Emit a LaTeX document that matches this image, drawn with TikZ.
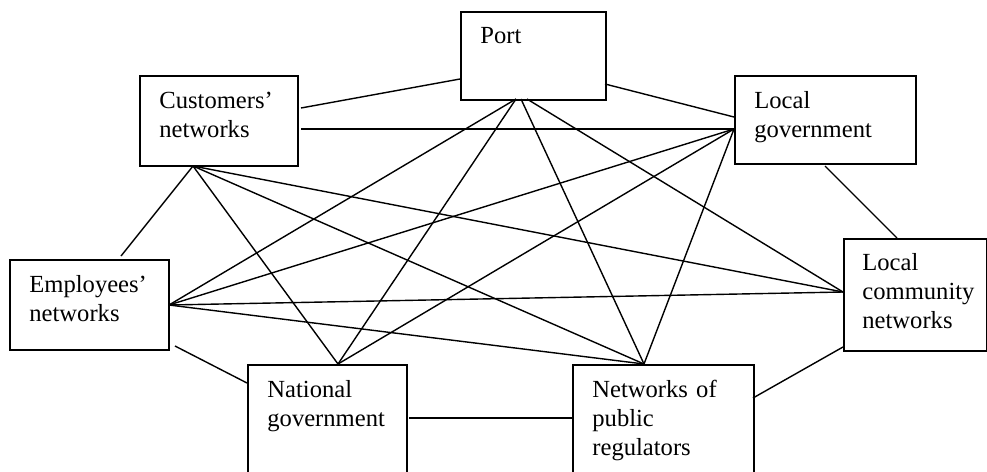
\documentclass[tikz,border=0pt]{standalone}
\usepackage{fontspec}
\setmainfont{Liberation Serif}
\begin{document}
\begin{tikzpicture}[x=0.5pt,y=-0.5pt,
  box/.style={draw, line width=0.75pt, rectangle, anchor=north west, inner sep=0pt},
  lbl/.style={anchor=base west, inner sep=0pt, text width=#1, align=left,
    font=\fontsize{12.3}{14.6}\selectfont},
  lbl/.default=80pt,
  link/.style={line width=0.7pt}]
\useasboundingbox (0,0) rectangle (987,472);
\clip (0,0) rectangle (987,472);
% boxes
\node[box, minimum width=72.5pt, minimum height=44pt] (port) at (460,11) {};
\node[box, minimum width=79pt, minimum height=45pt] (cust) at (139,75) {};
\node[box, minimum width=90.5pt, minimum height=44pt] (lgov) at (734,75) {};
\node[box, minimum width=79.5pt, minimum height=45pt] (emp) at (9,259) {};
\node[box, minimum width=71.5pt, minimum height=56pt] (lcom) at (843,238) {};
\node[box, minimum width=79.5pt, minimum height=70pt] (nat) at (247,364) {};
\node[box, minimum width=90.5pt, minimum height=70pt] (reg) at (572,364) {};
% labels
\node[lbl] (portt) at (480,43) {Port};
\node[lbl] (custt) at (159,108) {Customers'\\networks};
\node[lbl] (lgovt) at (754,108) {Local\\government};
\node[lbl] (empt) at (29,292) {Employees'\\networks};
\node[lbl] (lcomt) at (862,270) {Local\\community\\networks};
\node[lbl] (natt) at (267,397) {National\\government};
\node[lbl] (regt) at (592,397) {Networks of\\public\\regulators};
% connection points
\coordinate (custR1) at (301,108);
\coordinate (custR2) at (301,129);
\coordinate (custB) at (193,166);
\coordinate (portL) at (460,79);
\coordinate (portR) at (605,84);
\coordinate (portB1) at (516,99);
\coordinate (portB2) at (521,99);
\coordinate (portB3) at (527,99);
\coordinate (lgovL1) at (734,117);
\coordinate (lgovL2) at (734,129);
\coordinate (lgovB) at (825,166);
\coordinate (empT) at (121,256);
\coordinate (empR) at (169,305);
\coordinate (empBR) at (175,346);
\coordinate (natT) at (338,364);
\coordinate (natL) at (247,383);
\coordinate (natR) at (409,418);
\coordinate (regT) at (644,364);
\coordinate (regL) at (572,418);
\coordinate (regR) at (753,398);
\coordinate (lcomL) at (843,292);
\coordinate (lcomT) at (897,238);
\coordinate (lcomBL) at (843,347);
% connectors
\draw[link] (custR1) -- (portL);
\draw[link] (custR2) -- (lgovL2);
\draw[link] (portR) -- (lgovL1);
\draw[link] (custB) -- (empT);
\draw[link] (custB) -- (natT);
\draw[link] (custB) -- (regT);
\draw[link] (custB) -- (lcomL);
\draw[link] (portB1) -- (empR);
\draw[link] (portB1) -- (natT);
\draw[link] (portB2) -- (regT);
\draw[link] (portB3) -- (lcomL);
\draw[link] (lgovL2) -- (empR);
\draw[link] (lgovL2) -- (natT);
\draw[link] (lgovL2) -- (regT);
\draw[link] (lgovB) -- (lcomT);
\draw[link] (empR) -- (lcomL);
\draw[link] (empR) -- (regT);
\draw[link] (empBR) -- (natL);
\draw[link] (natR) -- (regL);
\draw[link] (regR) -- (lcomBL);
\end{tikzpicture}
\end{document}
